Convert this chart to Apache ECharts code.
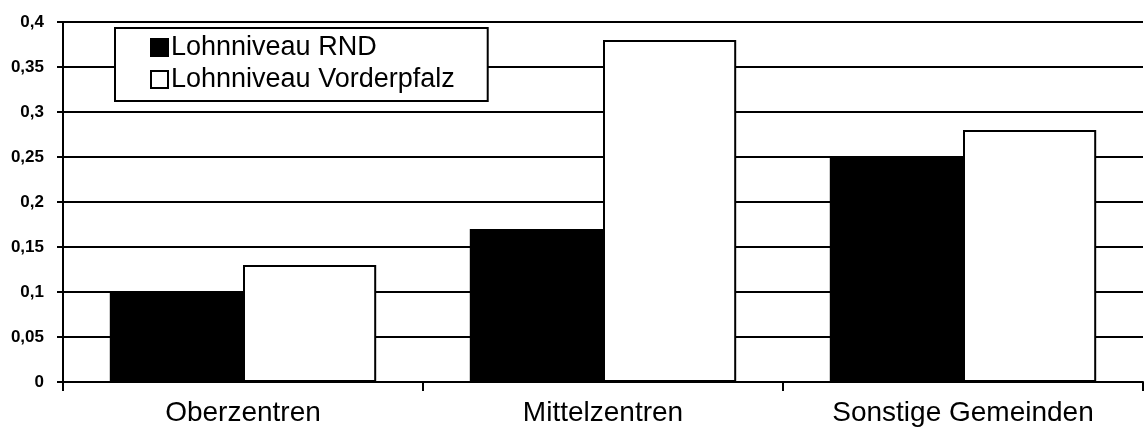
<!DOCTYPE html>
<html>
<head>
<meta charset="utf-8" />
<script src="https://cdn.jsdelivr.net/npm/echarts@6/dist/echarts.min.js"></script>
<title>Lohnniveau</title>
<style>
  html, body { margin: 0; padding: 0; background: #fff; }
  #main { width: 1146px; height: 432px; }
</style>
</head>
<body>
<div id="main"></div>
<script type="text/javascript">
var categories = ['Oberzentren', 'Mittelzentren', 'Sonstige Gemeinden'];
var rnd = [0.1, 0.17, 0.25];
var vorderpfalz = [0.13, 0.38, 0.28];
var seriesNames = ['Lohnniveau RND', 'Lohnniveau Vorderpfalz'];

var myChart = echarts.init(document.getElementById('main'));
var option = {
    backgroundColor: '#fff',
    animation: false,
    textStyle: { fontFamily: 'Liberation Sans, Arial, sans-serif', color: '#000' },
    legend: {
        data: seriesNames,
        orient: 'vertical',
        left: 115,
        top: 28,
        icon: 'rect',
        itemWidth: 17,
        itemHeight: 17,
        itemGap: 5,
        padding: [6, 33, 8, 35],
        borderColor: '#000',
        borderWidth: 2,
        backgroundColor: '#fff',
        textStyle: { fontSize: 27, color: '#000', padding: [0, 0, 0, -2] }
    },
    grid: {
        left: 63,
        right: 3,
        top: 22,
        bottom: 50
    },
    xAxis: {
        type: 'category',
        data: categories,
        axisLine: { lineStyle: { color: '#000', width: 2 } },
        axisTick: { show: true, length: 9, lineStyle: { color: '#000', width: 2 } },
        axisLabel: { fontSize: 28, color: '#000', margin: 17 }
    },
    yAxis: {
        type: 'value',
        min: 0,
        max: 0.4,
        interval: 0.05,
        axisLine: { show: true, lineStyle: { color: '#000', width: 2 } },
        axisTick: { show: true, length: 6, lineStyle: { color: '#000', width: 2 } },
        splitLine: { lineStyle: { color: '#000', width: 2 } },
        axisLabel: {
            fontSize: 17,
            fontWeight: 'bold',
            color: '#000',
            margin: 19,
            formatter: function (v) { return String(+v.toFixed(2)).replace('.', ','); }
        }
    },
    series: [
        {
            name: seriesNames[0],
            type: 'bar',
            data: rnd,
            barGap: '0%',
            barCategoryGap: '26%',
            itemStyle: { color: '#000', borderColor: '#000', borderWidth: 2 }
        },
        {
            name: seriesNames[1],
            type: 'bar',
            data: vorderpfalz,
            itemStyle: { color: '#fff', borderColor: '#000', borderWidth: 2 }
        }
    ]
};
myChart.setOption(option);
</script>
</body>
</html>
